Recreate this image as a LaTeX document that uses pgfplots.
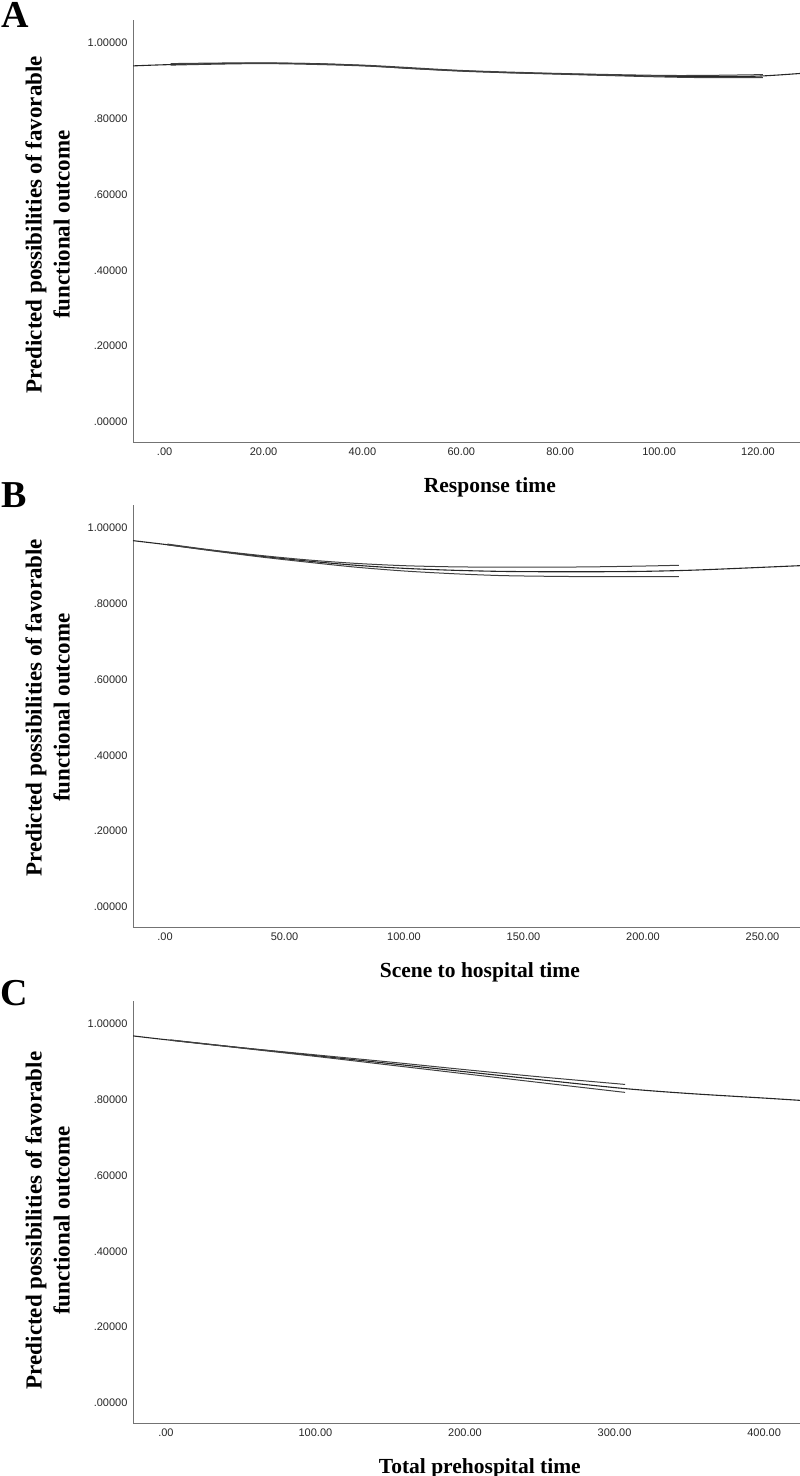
\documentclass[border=0pt]{standalone}
\usepackage{pgfplots}
\pgfplotsset{compat=1.18}
\usepackage{fontspec}
\setmainfont{Liberation Serif}
\newfontfamily\arialfont{Liberation Sans}

\pgfplotsset{
  spss/.style={
    scale only axis, width=667pt, height=422pt,
    anchor=south west,
    axis x line=bottom, axis y line=left,
    axis line style={-, draw=black!55, line width=0.9pt},
    major tick length=0pt,
    ymin=-0.053, ymax=1.06,
    ytick={0,0.2,0.4,0.6,0.8,1.0},
    yticklabels={.00000,.20000,.40000,.60000,.80000,1.00000},
    tick label style={font=\arialfont\fontsize{11}{13}\selectfont, text=black!85},
    yticklabel style={xshift=-2pt},
    xticklabel style={yshift=-2.5pt},
    ylabel={Predicted possibilities of favorable\\functional outcome},
    ylabel style={anchor=center, align=center, font=\bfseries\fontsize{23}{28}\selectfont},
    xlabel style={at={(axis description cs:0.52,-0.108)}, anchor=center, font=\bfseries\fontsize{21.5}{24}\selectfont},
  },
  fitline/.style={black!85, line width=1.1pt, smooth},
  ciline/.style={black!75, line width=1pt, smooth},
}

\begin{document}
\begin{tikzpicture}[x=1pt,y=1pt]
\path[use as bounding box] (0,0) rectangle (800,-1476);

% ---------------- Panel A ----------------
\begin{axis}[spss, at={(133pt,-442pt)},
  xmin=-6.4, xmax=128.5,
  xtick={0,20,40,60,80,100,120},
  xticklabels={.00,20.00,40.00,60.00,80.00,100.00,120.00},
  xlabel={Response time},
  xlabel style={at={(axis description cs:0.535,-0.108)}},
  ylabel style={at={(axis description cs:-0.128,0.515)}}]
\addplot[fitline] coordinates {
(-6.4,0.939) (0,0.942) (10,0.945) (20,0.946) (30,0.945) (40,0.940) (50,0.932)
(60,0.926) (70,0.921) (80,0.918) (90,0.915) (100,0.912) (110,0.911) (120,0.912) (128.5,0.919)};
\addplot[ciline] coordinates {
(1.2,0.945) (20,0.947) (40,0.941) (60,0.927) (80,0.919) (100,0.914) (110,0.914) (121,0.916)};
\addplot[ciline] coordinates {
(1.2,0.941) (20,0.945) (40,0.939) (60,0.925) (80,0.917) (100,0.910) (110,0.908) (121,0.908)};
\end{axis}

% ---------------- Panel B ----------------
\begin{axis}[spss, at={(133pt,-927pt)},
  xmin=-13.4, xmax=265.7,
  xtick={0,50,100,150,200,250},
  xticklabels={.00,50.00,100.00,150.00,200.00,250.00},
  xlabel={Scene to hospital time},
  ylabel style={at={(axis description cs:-0.128,0.52)}}]
\addplot[fitline] coordinates {
(-13.4,0.966) (0,0.956) (20,0.940) (40,0.925) (60,0.912) (80,0.901) (100,0.893)
(120,0.888) (140,0.885) (160,0.884) (180,0.884) (200,0.885) (220,0.888) (240,0.893) (265.7,0.900)};
\addplot[ciline] coordinates {
(1,0.957) (20,0.941) (40,0.927) (60,0.915) (80,0.906) (100,0.900) (120,0.897)
(140,0.896) (160,0.896) (180,0.897) (200,0.899) (215,0.901)};
\addplot[ciline] coordinates {
(1,0.955) (20,0.939) (40,0.923) (60,0.909) (80,0.896) (100,0.886) (120,0.879)
(140,0.874) (160,0.872) (180,0.871) (200,0.871) (215,0.871)};
\end{axis}

% ---------------- Panel C ----------------
\begin{axis}[spss, at={(133pt,-1423pt)},
  xmin=-22, xmax=424,
  xtick={0,100,200,300,400},
  xticklabels={.00,100.00,200.00,300.00,400.00},
  xlabel={Total prehospital time},
  ylabel style={at={(axis description cs:-0.128,0.48)}}]
\addplot[fitline] coordinates {
(-22,0.968) (0,0.958) (50,0.937) (100,0.916) (150,0.895) (200,0.8735)
(250,0.8525) (307,0.829) (350,0.816) (400,0.804) (424,0.798)};
\addplot[ciline] coordinates {
(3,0.9575) (50,0.937) (100,0.918) (150,0.899) (200,0.879) (250,0.860) (307,0.840)};
\addplot[ciline] coordinates {
(3,0.9565) (50,0.936) (100,0.914) (150,0.891) (200,0.868) (250,0.845) (307,0.819)};
\end{axis}

% panel letters
\node[font=\bfseries\fontsize{38}{40}\selectfont] at (15,-15) {A};
\node[font=\bfseries\fontsize{38}{40}\selectfont] at (14,-495) {B};
\node[font=\bfseries\fontsize{38}{40}\selectfont] at (14,-993) {C};
\end{tikzpicture}
\end{document}
